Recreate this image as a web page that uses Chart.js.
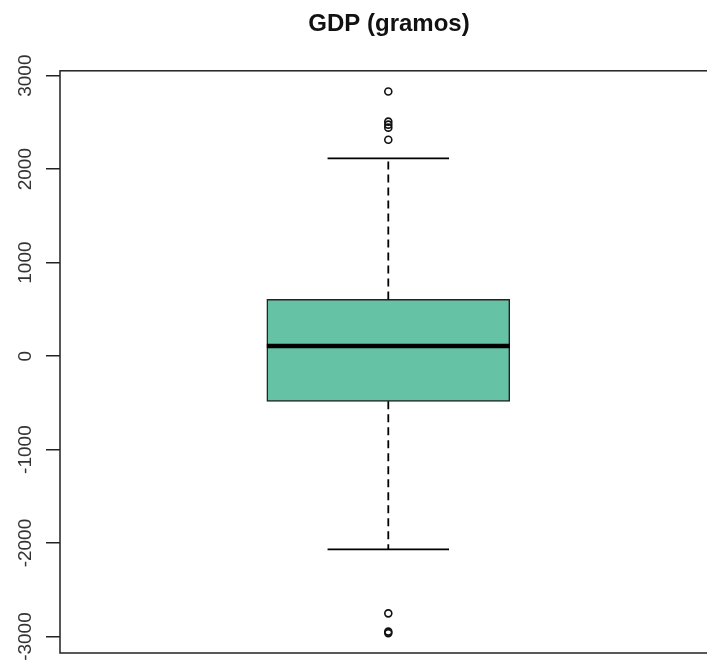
<!DOCTYPE html>
<html>
<head>
<meta charset="utf-8">
<title>GDP (gramos)</title>
<script src="https://cdn.jsdelivr.net/npm/chart.js@4/dist/chart.umd.min.js"></script>
<style>
  html, body { margin: 0; padding: 0; background: #fff; overflow: hidden; }
  #wrap { position: absolute; left: 0; top: 0; width: 778px; height: 663px; }
</style>
</head>
<body>
<div id="wrap"><canvas id="boxChart" width="778" height="663"></canvas></div>
<script>
"use strict";

// Resumen de la variable GDP (gramos)
const category = ["GDP"];
const quartiles = [-484, 107, 606];      // Q1, mediana, Q3
const whiskers = [-2068, 2115];          // bigote inferior, bigote superior
const outliers = [2831, 2508, 2476, 2444, 2315, -2752, -2947, -2963];
const yTicks = [-3000, -2000, -1000, 0, 1000, 2000, 3000];

const FONT = "'Liberation Sans', Arial, sans-serif";
const CENTER = 1;        // posición x de la caja
const HALF_BOX = 0.37;   // media anchura de la caja (unidades de x)
const HALF_CAP = 0.185;  // media anchura de los topes de los bigotes

const [q1, med, q3] = quartiles;
const [lowW, highW] = whiskers;

// marco alrededor del área de dibujo
const framePlugin = {
  id: "frame",
  afterDatasetsDraw(chart) {
    const { ctx, chartArea: a } = chart;
    ctx.save();
    ctx.strokeStyle = "#222";
    ctx.lineWidth = 1.5;
    ctx.strokeRect(a.left, a.top, a.right - a.left, a.bottom - a.top);
    ctx.restore();
  }
};

function segment(x0, y0, x1, y1) {
  return [{ x: x0, y: y0 }, { x: x1, y: y1 }];
}

const lineDefaults = {
  type: "line",
  borderColor: "#000",
  pointRadius: 0,
  fill: false,
  order: 0
};

new Chart(document.getElementById("boxChart"), {
  type: "bar",
  data: {
    labels: category,
    datasets: [
      {
        type: "scatter",
        label: "atípicos",
        data: outliers.map(v => ({ x: CENTER, y: v })),
        pointRadius: 3.5,
        pointBorderWidth: 1.6,
        pointBorderColor: "#111",
        pointBackgroundColor: "rgba(0,0,0,0)",
        order: 0
      },
      Object.assign({}, lineDefaults, {
        label: "mediana",
        data: segment(CENTER - HALF_BOX, med, CENTER + HALF_BOX, med),
        borderWidth: 4.5
      }),
      Object.assign({}, lineDefaults, {
        label: "bigote superior",
        data: segment(CENTER, q3, CENTER, highW),
        borderWidth: 1.8,
        borderDash: [8, 5]
      }),
      Object.assign({}, lineDefaults, {
        label: "bigote inferior",
        data: segment(CENTER, q1, CENTER, lowW),
        borderWidth: 1.8,
        borderDash: [8, 5]
      }),
      Object.assign({}, lineDefaults, {
        label: "tope superior",
        data: segment(CENTER - HALF_CAP, highW, CENTER + HALF_CAP, highW),
        borderWidth: 1.6
      }),
      Object.assign({}, lineDefaults, {
        label: "tope inferior",
        data: segment(CENTER - HALF_CAP, lowW, CENTER + HALF_CAP, lowW),
        borderWidth: 1.6
      }),
      {
        label: category[0],
        data: [{ x: CENTER, y: [q1, q3] }],
        backgroundColor: "#66C2A5",
        borderColor: "#222",
        borderWidth: 1.5,
        borderSkipped: false,
        barThickness: 243,
        order: 10
      }
    ]
  },
  options: {
    responsive: false,
    animation: false,
    layout: { padding: { top: 0, left: 0, right: 0, bottom: 10 } },
    plugins: {
      legend: { display: false },
      tooltip: { enabled: false },
      title: {
        display: true,
        text: "GDP (gramos)",
        color: "#111",
        font: { family: FONT, size: 24, weight: "bold" },
        padding: { top: 10, bottom: 32 }
      }
    },
    scales: {
      x: {
        type: "linear",
        display: false,
        offset: false,
        min: 0,
        max: 2.17
      },
      y: {
        min: -3176,
        max: 3052,
        afterBuildTicks(scale) {
          scale.ticks = yTicks.map(v => ({ value: v }));
        },
        afterFit(scale) {
          scale.width = 60;
          scale.paddingTop = 0;
          scale.paddingBottom = 0;
        },
        border: { display: false },
        grid: {
          drawOnChartArea: false,
          drawTicks: true,
          tickLength: 14,
          color: "#222",
          lineWidth: 1.5
        },
        ticks: {
          minRotation: 90,
          maxRotation: 90,
          crossAlign: "center",
          padding: -4,
          color: "#333",
          font: { family: FONT, size: 19 },
          callback: v => String(v)
        }
      }
    }
  },
  plugins: [framePlugin]
});
</script>
</body>
</html>
